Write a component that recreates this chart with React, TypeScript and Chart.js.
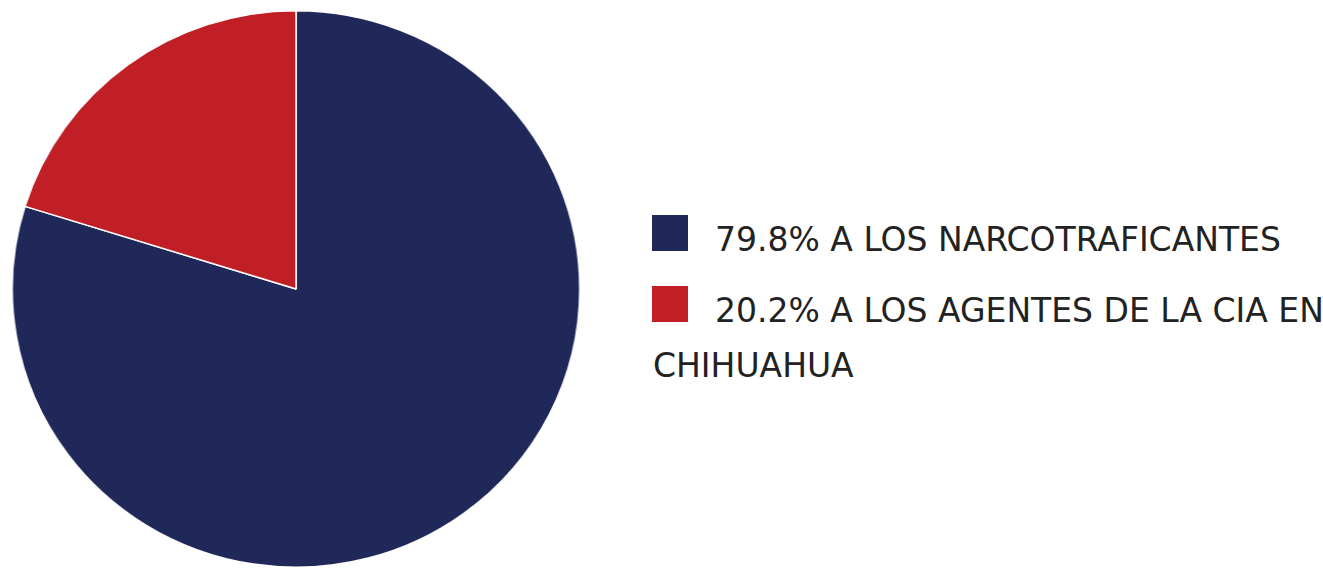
import React, { useEffect, useRef } from "react";
import { Chart, registerables } from "chart.js";

Chart.register(...registerables);

const labels = ["79.8% A LOS NARCOTRAFICANTES", "20.2% A LOS AGENTES DE LA CIA EN CHIHUAHUA"];
const values = [79.8, 20.2];
const colors = ["#1f2859", "#c01f26"];

export default function App() {
  const ref = useRef<HTMLCanvasElement | null>(null);

  useEffect(() => {
    if (!ref.current) return;
    const chart = new Chart(ref.current, {
      type: "pie",
      data: {
        labels,
        datasets: [
          {
            data: values,
            backgroundColor: colors,
            borderColor: "#ffffff",
            borderWidth: 1.5,
          },
        ],
      },
      options: {
        animation: false,
        responsive: true,
        maintainAspectRatio: false,
        layout: { padding: 0 },
        plugins: {
          legend: { display: false },
          tooltip: { enabled: false },
        },
      },
    });
    return () => chart.destroy();
  }, []);

  const font = "'DejaVu Sans', sans-serif";
  const sq = (c: string): React.CSSProperties => ({
    position: "absolute",
    width: 36,
    height: 36,
    background: c,
  });
  const txt: React.CSSProperties = {
    position: "absolute",
    fontFamily: font,
    fontSize: 33,
    fontWeight: 400,
    letterSpacing: 0,
    color: "#222222",
    whiteSpace: "nowrap",
    lineHeight: "40px",
  };
  const l2 = labels[1].split(" ");
  const l2a = l2.slice(0, l2.length - 1).join(" ");
  const l2b = l2[l2.length - 1];

  return (
    <div style={{ position: "fixed", left: 0, top: 0, width: 1323, height: 569, background: "#fff", overflow: "hidden" }}>
      <div style={{ position: "absolute", left: 17, top: 10, width: 558, height: 558, transform: "scale(1.02,1)", transformOrigin: "center" }}>
        <canvas ref={ref} />
      </div>
      <div style={{ ...sq(colors[0]), left: 652, top: 215 }} />
      <div style={{ ...txt, left: 715, top: 220 }}>{labels[0]}</div>
      <div style={{ ...sq(colors[1]), left: 652, top: 286 }} />
      <div style={{ ...txt, left: 715, top: 291 }}>{l2a}</div>
      <div style={{ ...txt, left: 653, top: 346 }}>{l2b}</div>
    </div>
  );
}
